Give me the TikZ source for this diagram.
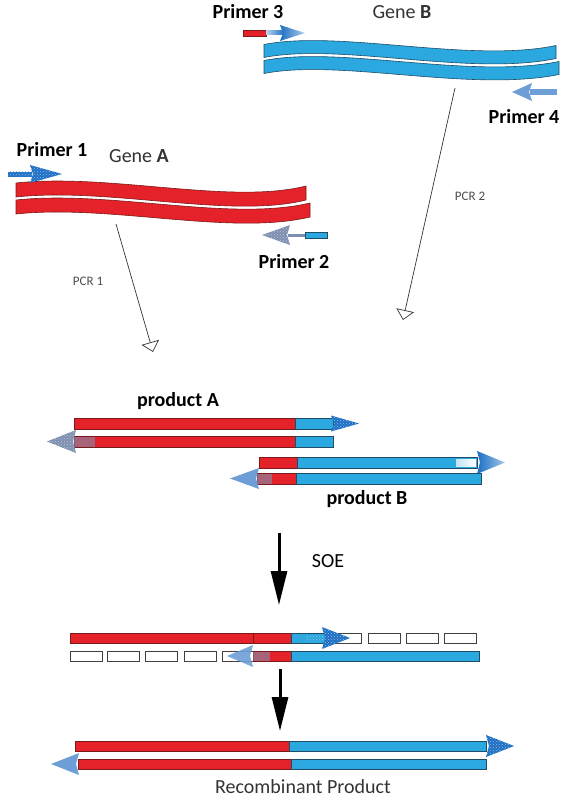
\documentclass[tikz,border=0pt]{standalone}
\usepackage{fontspec}
\setmainfont{Carlito}
\usetikzlibrary{arrows.meta,patterns}
\definecolor{dnared}{HTML}{E52129}
\definecolor{dnaredline}{HTML}{7A1A1A}
\definecolor{dnablue}{HTML}{2AA8DF}
\definecolor{dnablueline}{HTML}{1E4E66}
\definecolor{primerblue}{HTML}{1C6FC4}
\definecolor{lightarrow}{HTML}{6E9ED6}
\definecolor{greyarrow}{HTML}{7D8FB0}
\begin{document}
\begin{tikzpicture}[x=1pt,y=-1pt,
  redstrand/.style={fill=dnared, draw=dnaredline, line width=0.6pt},
  bluestrand/.style={fill=dnablue, draw=dnablueline, line width=0.6pt},
  openbox/.style={fill=white, draw=black!75, line width=0.7pt},
  dotfill/.style={pattern=crosshatch dots, pattern color=white!55!primerblue},
  greydot/.style={pattern=crosshatch dots, pattern color=white!50!greyarrow},
  boldlbl/.style={font=\fontsize{20}{22}\selectfont\bfseries, text=black, inner sep=0pt},
  genelbl/.style={font=\fontsize{20}{22}\selectfont, text=black!80, inner sep=0pt},
  pcrlbl/.style={font=\fontsize{13}{15}\selectfont, text=black!70, inner sep=0pt},
  pcrline/.style={draw=black!80, line width=0.7pt, -{Triangle[open,width=18pt,length=10pt]}},
  bigarrow/.style={draw=black, line width=3pt, -{Triangle[width=16pt,length=34pt]}}]
\useasboundingbox (0,0) rectangle (567,800);

% ---------------- Gene B ----------------
\node[boldlbl] (p3lbl) at (248,12) {Primer 3};
\node[genelbl] (geneB) at (402,12) {Gene \textbf{B}};
\path[bluestrand] (264,44.5) .. controls (340,29.5) and (470,63.5) .. (556,45.5) -- (556,58.5) .. controls (470,76.5) and (340,42.5) .. (264,57.5) -- cycle;
\path[bluestrand] (264,60.5) .. controls (340,45.5) and (470,79.5) .. (559,61.5) -- (559,74.5) .. controls (470,92.5) and (340,58.5) .. (264,73.5) -- cycle;
% primer 3
\path[redstrand] (243,30) rectangle (266,36);
\shade[left color=white!70!primerblue, right color=primerblue] (266,31) rectangle (284,35);
\shade[left color=primerblue, right color=primerblue!35!white] (280,25) -- (305,33) -- (280,41) -- (283,33) -- cycle;
% primer 4
\fill[lightarrow] (530,89) rectangle (557,95);
\fill[lightarrow] (532,83) -- (512,92) -- (532,101) -- (529,92) -- cycle;
\node[boldlbl] (p4lbl) at (524,117) {Primer 4};

% ---------------- Gene A ----------------
\node[boldlbl] (p1lbl) at (52,150) {Primer 1};
\node[genelbl] (geneA) at (139,156) {Gene \textbf{A}};
\path[redstrand] (16,183) .. controls (110,173) and (230,205) .. (306,186) -- (306,200) .. controls (230,219) and (110,187) .. (16,197) -- cycle;
\path[redstrand] (16,200) .. controls (110,190) and (230,222) .. (310,203) -- (310,217) .. controls (230,236) and (110,204) .. (16,214) -- cycle;
% primer 1
\fill[primerblue] (8,171.5) rectangle (32,176.5);
\fill[primerblue] (30,165) -- (62,174) -- (30,183) -- (33,174) -- cycle;
\fill[dotfill] (8,171.5) rectangle (32,176.5);
\fill[dotfill] (30,165) -- (62,174) -- (30,183) -- (33,174) -- cycle;
% primer 2
\path[bluestrand] (305,232) rectangle (327,238);
\fill[greyarrow] (288,233.5) rectangle (305,236.5);
\fill[greyarrow] (290,225) -- (262,235) -- (290,245) -- (287,235) -- cycle;
\fill[greydot] (290,225) -- (262,235) -- (290,245) -- (287,235) -- cycle;
\node[boldlbl] (p2lbl) at (294,262) {Primer 2};

% ---------------- PCR lines ----------------
\coordinate (pcr1s) at (116,224);
\coordinate (pcr1e) at (153,352);
\coordinate (pcr2s) at (455,88);
\coordinate (pcr2e) at (403,320);
\draw[pcrline] (pcr1s) -- (pcr1e);
\draw[pcrline] (pcr2s) -- (pcr2e);
\node[pcrlbl] (pcr1lbl) at (88,281) {PCR 1};
\node[pcrlbl] (pcr2lbl) at (470,196) {PCR 2};

% ---------------- Product A ----------------
\node[boldlbl] (prodA) at (178,401) {product A};
\path[redstrand] (74,418) rectangle (295,429);
\path[bluestrand] (295,418) rectangle (333,429);
\fill[primerblue] (331,415.5) -- (359,423.5) -- (331,431.5) -- (334,423.5) -- cycle;
\fill[dotfill] (331,415.5) -- (359,423.5) -- (331,431.5) -- (334,423.5) -- cycle;
\path[redstrand] (74,436) rectangle (295,447);
\path[bluestrand] (295,436) rectangle (333,447);
\fill[greyarrow, opacity=0.6] (74,436.5) rectangle (95,446.5);
\fill[greyarrow] (76,430) -- (47,441.5) -- (76,453) -- (73,441.5) -- cycle;
\fill[greydot] (76,430) -- (47,441.5) -- (76,453) -- (73,441.5) -- cycle;

% ---------------- Product B ----------------
\path[redstrand] (259,457) rectangle (297,468);
\path[bluestrand] (297,457) rectangle (477,468);
\shade[left color=white!70!dnablue, right color=white] (456,459) rectangle (476,466);
\shade[left color=primerblue, right color=primerblue!40!white] (477,451) -- (505,462.5) -- (477,474) -- (480,462.5) -- cycle;
\path[redstrand] (257,473) rectangle (296,484);
\path[bluestrand] (296,473) rectangle (481,484);
\fill[greyarrow, opacity=0.6] (257,473.5) rectangle (272,483.5);
\fill[lightarrow] (259,468) -- (230,478.5) -- (259,489) -- (256,478.5) -- cycle;
\node[boldlbl] (prodB) at (367,499) {product B};

% ---------------- SOE ----------------
\coordinate (soes) at (279,533);
\coordinate (soee) at (279,605);
\draw[bigarrow] (soes) -- (soee);
\node[genelbl, text=black] (soelbl) at (328,561) {SOE};

% top row
\path[redstrand] (70,633) rectangle (253,643);
\path[redstrand] (253,633) rectangle (291,643);
\path[openbox] (329,633) rectangle (361,643);
\path[bluestrand] (291,633) rectangle (331,643);
\path[openbox] (368,633) rectangle (400,643);
\path[openbox] (406,633) rectangle (438,643);
\path[openbox] (444,633) rectangle (476,643);
\fill[dotfill] (305,635) rectangle (325,641);
\fill[primerblue] (322,627) -- (350,638) -- (322,649) -- (325,638) -- cycle;
\fill[dotfill] (322,627) -- (350,638) -- (322,649) -- (325,638) -- cycle;
% bottom row
\path[openbox] (70,651) rectangle (102,661);
\path[openbox] (107,651) rectangle (139,661);
\path[openbox] (145,651) rectangle (177,661);
\path[openbox] (184,651) rectangle (216,661);
\path[openbox] (222,651) rectangle (253,661);
\path[redstrand] (253,651) rectangle (291,661);
\path[bluestrand] (291,651) rectangle (479,661);
\fill[greyarrow, opacity=0.6] (253,651.5) rectangle (270,660.5);
\fill[lightarrow, opacity=0.9] (253,645) -- (227,656) -- (253,667) -- (250,656) -- cycle;

\coordinate (recs) at (280,669);
\coordinate (rece) at (280,731);
\draw[bigarrow] (recs) -- (rece);

% ---------------- Recombinant ----------------
\path[redstrand] (75,741) rectangle (289,751);
\path[bluestrand] (289,741) rectangle (486,751);
\fill[primerblue] (486,735) -- (514,746) -- (486,757) -- (489,746) -- cycle;
\fill[dotfill] (486,735) -- (514,746) -- (486,757) -- (489,746) -- cycle;
\path[redstrand] (78,759) rectangle (291,769);
\path[bluestrand] (291,759) rectangle (486,769);
\fill[lightarrow] (79,753) -- (51,764) -- (79,775) -- (76,764) -- cycle;
\node[genelbl] (reclbl) at (303,787) {Recombinant Product};
\end{tikzpicture}
\end{document}
